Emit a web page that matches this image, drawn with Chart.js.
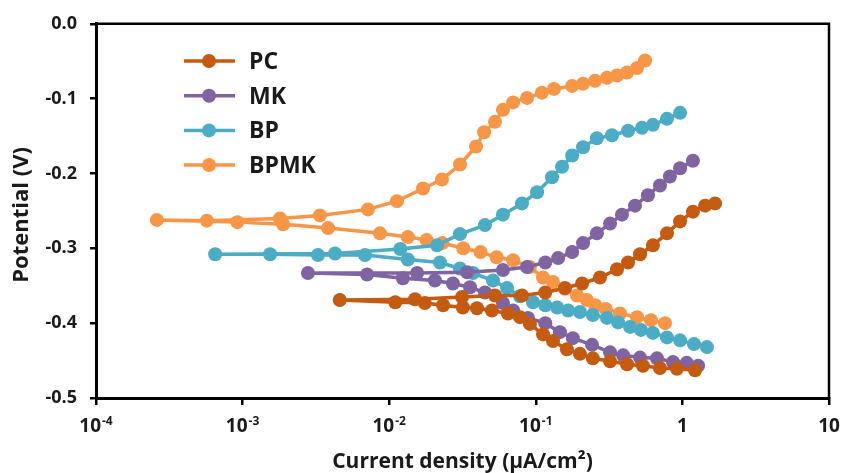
<!DOCTYPE html>
<html>
<head>
<meta charset="utf-8">
<script src="https://cdn.jsdelivr.net/npm/chart.js@4.4.1/dist/chart.umd.min.js"></script>
<style>
    html, body { margin: 0; padding: 0; background: #fff; }
    #wrap { width: 842px; height: 473px; position: relative; }
</style>
</head>
<body>
<div id="wrap"><canvas id="tafelChart"></canvas></div>
<script>
// each series: cathodic branch (high current -> Ecorr), then anodic branch back up
const seriesNames = ['PC', 'MK', 'BP', 'BPMK'];
const seriesColors = ['#C55A11', '#8064A2', '#4BACC6', '#F79646'];

const pcCurrent = [1.22, 0.918, 0.703, 0.538, 0.419, 0.321, 0.245, 0.200, 0.163, 0.131, 0.112, 0.0912, 0.078, 0.0646, 0.0502, 0.0397, 0.0318, 0.0233, 0.0175, 0.011, 0.0046,
    0.015, 0.0314, 0.0527, 0.0805, 0.116, 0.158, 0.207, 0.274, 0.358, 0.426, 0.514, 0.629, 0.785, 0.964, 1.18, 1.43, 1.67];
const pcPotential = [-0.463, -0.461, -0.460, -0.457, -0.455, -0.451, -0.447, -0.441, -0.435, -0.424, -0.415, -0.401, -0.392, -0.387, -0.383, -0.380, -0.379, -0.376, -0.373, -0.372, -0.369,
    -0.368, -0.365, -0.363, -0.363, -0.359, -0.353, -0.347, -0.339, -0.328, -0.319, -0.308, -0.296, -0.280, -0.264, -0.251, -0.243, -0.240];

const mkCurrent = [1.28, 1.07, 0.863, 0.671, 0.514, 0.394, 0.321, 0.242, 0.179, 0.146, 0.116, 0.0885, 0.070, 0.0597, 0.045, 0.0356, 0.0272, 0.0205, 0.0124, 0.00706, 0.00279,
    0.0155, 0.034, 0.0597, 0.0871, 0.116, 0.142, 0.177, 0.210, 0.261, 0.321, 0.387, 0.475, 0.582, 0.703, 0.822, 0.964, 1.18];
const mkPotential = [-0.457, -0.453, -0.452, -0.447, -0.446, -0.443, -0.439, -0.429, -0.420, -0.412, -0.400, -0.393, -0.383, -0.373, -0.359, -0.352, -0.347, -0.343, -0.340, -0.335, -0.333,
    -0.333, -0.332, -0.329, -0.325, -0.319, -0.313, -0.305, -0.293, -0.280, -0.267, -0.255, -0.243, -0.229, -0.216, -0.204, -0.193, -0.183];

const bpCurrent = [1.47, 1.20, 0.964, 0.785, 0.629, 0.522, 0.440, 0.364, 0.306, 0.245, 0.200, 0.166, 0.140, 0.116, 0.0957, 0.078, 0.0637, 0.0511, 0.0373, 0.0304, 0.0222, 0.0134, 0.00684, 0.00327, 0.00154, 0.00065,
    0.00427, 0.0119, 0.0212, 0.0304, 0.045, 0.0597, 0.0805, 0.102, 0.129, 0.151, 0.177, 0.210, 0.261, 0.331, 0.426, 0.530, 0.629, 0.785, 0.964];
const bpPotential = [-0.432, -0.428, -0.423, -0.419, -0.413, -0.409, -0.405, -0.399, -0.393, -0.389, -0.385, -0.383, -0.379, -0.376, -0.372, -0.364, -0.353, -0.343, -0.333, -0.327, -0.319, -0.315, -0.309, -0.309, -0.308, -0.308,
    -0.307, -0.301, -0.296, -0.281, -0.269, -0.255, -0.240, -0.225, -0.205, -0.191, -0.176, -0.165, -0.153, -0.149, -0.143, -0.139, -0.135, -0.127, -0.119];

const bpmkCurrent = [0.76, 0.61, 0.49, 0.375, 0.30, 0.254, 0.223, 0.191, 0.158, 0.131, 0.112, 0.091, 0.070, 0.054, 0.042, 0.032, 0.023, 0.018, 0.0134, 0.00865, 0.00383, 0.00189, 0.00092, 0.00026,
    0.00057, 0.0018, 0.00337, 0.00716, 0.0113, 0.017, 0.0229, 0.0304, 0.0391, 0.0444, 0.0527, 0.0597, 0.070, 0.0871, 0.110, 0.133, 0.177, 0.210, 0.254, 0.306, 0.358, 0.419, 0.490, 0.556];
const bpmkPotential = [-0.400, -0.396, -0.392, -0.387, -0.381, -0.376, -0.369, -0.363, -0.354, -0.345, -0.339, -0.325, -0.316, -0.312, -0.305, -0.300, -0.293, -0.289, -0.285, -0.280, -0.273, -0.268, -0.265, -0.262,
    -0.263, -0.260, -0.256, -0.248, -0.237, -0.220, -0.208, -0.188, -0.164, -0.145, -0.131, -0.115, -0.105, -0.099, -0.092, -0.087, -0.083, -0.080, -0.076, -0.072, -0.069, -0.065, -0.059, -0.049];

const xTickValues = [1e-4, 1e-3, 1e-2, 1e-1, 1, 10];
const xTickBase = ['10', '10', '10', '10', '1', '10'];
const xTickExp = ['-4', '-3', '-2', '-1', '', ''];
const xTitle = 'Current density (\u00B5A/cm\u00B2)';
const yTitle = 'Potential (V)';

const FONT = '"Open Sans", "DejaVu Sans", sans-serif';
const TEXT = '#1a1a1a';
const currents = [pcCurrent, mkCurrent, bpCurrent, bpmkCurrent];
const potentials = [pcPotential, mkPotential, bpPotential, bpmkPotential];

const datasets = seriesNames.map((name, i) => ({
    label: name,
    data: currents[i].map((c, k) => ({ x: c, y: potentials[i][k] })),
    borderColor: seriesColors[i],
    backgroundColor: seriesColors[i],
    borderWidth: 3.5,
    pointRadius: 7,
    pointBorderWidth: 0,
    showLine: true,
    tension: 0
}));

// legend drawn inside the plot, line + marker like the original
const insideLegend = {
    id: 'insideLegend',
    afterDatasetsDraw(chart) {
        const ctx = chart.ctx;
        ctx.save();
        seriesNames.forEach((name, i) => {
            const y = 61 + i * 34.7;
            ctx.strokeStyle = seriesColors[i];
            ctx.fillStyle = seriesColors[i];
            ctx.lineWidth = 3.5;
            ctx.beginPath();
            ctx.moveTo(184, y);
            ctx.lineTo(235, y);
            ctx.stroke();
            ctx.beginPath();
            ctx.arc(209, y, 7, 0, Math.PI * 2);
            ctx.fill();
            ctx.fillStyle = TEXT;
            ctx.font = 'bold 23px ' + FONT;
            ctx.textAlign = 'left';
            ctx.textBaseline = 'alphabetic';
            ctx.fillText(name, 249, y + 8);
        });
        ctx.restore();
    }
};

// frame, x tick labels with superscripts, axis titles
const axisText = {
    id: 'axisText',
    afterDraw(chart) {
        const a = chart.chartArea;
        const ctx = chart.ctx;
        const xs = chart.scales.x;
        ctx.save();
        ctx.strokeStyle = '#000';
        ctx.lineWidth = 2.5;
        ctx.beginPath();
        ctx.moveTo(a.left, a.top);
        ctx.lineTo(a.right, a.top);
        ctx.lineTo(a.right, a.bottom);
        ctx.stroke();

        ctx.fillStyle = TEXT;
        ctx.textAlign = 'left';
        ctx.textBaseline = 'alphabetic';
        xTickValues.forEach((v, i) => {
            const px = xs.getPixelForValue(v);
            ctx.font = 'bold 19px ' + FONT;
            const wb = ctx.measureText(xTickBase[i]).width;
            ctx.font = 'bold 12px ' + FONT;
            const we = xTickExp[i] ? ctx.measureText(xTickExp[i]).width + 1 : 0;
            const x0 = px - (wb + we) / 2;
            ctx.font = 'bold 19px ' + FONT;
            ctx.fillText(xTickBase[i], x0, 432);
            if (xTickExp[i]) {
                ctx.font = 'bold 12px ' + FONT;
                ctx.fillText(xTickExp[i], x0 + wb + 1, 425);
            }
        });

        ctx.textAlign = 'center';
        ctx.font = 'bold 21px ' + FONT;
        ctx.fillText(xTitle, (a.left + a.right) / 2, 468);

        ctx.translate(28, (a.top + a.bottom) / 2 + 4);
        ctx.rotate(-Math.PI / 2);
        ctx.font = 'bold 22px ' + FONT;
        ctx.fillText(yTitle, 0, 0);
        ctx.restore();
    }
};

const ctx = document.getElementById('tafelChart').getContext('2d');
const tafelChart = new Chart(ctx, {
    type: 'scatter',
    data: { datasets: datasets },
    options: {
        responsive: true,
        maintainAspectRatio: false,
        animation: false,
        layout: { padding: { left: 0, right: 13, top: 23, bottom: 0 } },
        scales: {
            x: {
                type: 'logarithmic',
                min: 1e-4,
                max: 10,
                afterBuildTicks: (scale) => { scale.ticks = xTickValues.map(v => ({ value: v })); },
                afterFit: (scale) => { scale.height = 75; },
                grid: { display: true, drawOnChartArea: false, drawTicks: true, tickLength: 7, color: '#000', lineWidth: 2.5 },
                border: { display: true, color: '#000', width: 3 },
                ticks: { display: false, autoSkip: false }
            },
            y: {
                min: -0.5,
                max: 0,
                afterFit: (scale) => { scale.width = 96; },
                grid: { display: true, drawOnChartArea: false, drawTicks: true, tickLength: 6, color: '#000', lineWidth: 2.5 },
                border: { display: true, color: '#000', width: 3 },
                ticks: {
                    stepSize: 0.1,
                    color: TEXT,
                    font: { family: FONT, size: 18, weight: 'bold' },
                    padding: 13,
                    callback: (v) => (Math.abs(v) < 1e-9 ? 0 : v).toFixed(1)
                }
            }
        },
        plugins: {
            legend: { display: false },
            tooltip: { enabled: false }
        }
    },
    plugins: [insideLegend, axisText]
});
</script>
</body>
</html>
